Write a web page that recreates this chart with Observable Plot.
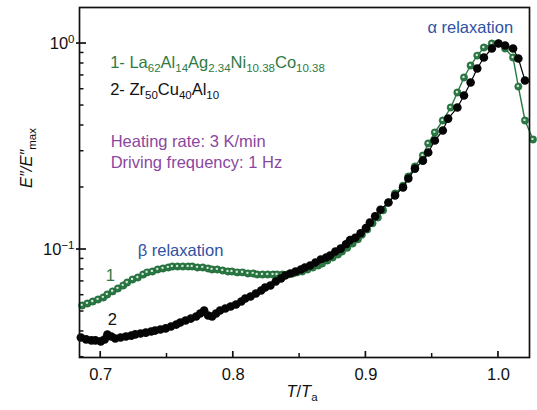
<!DOCTYPE html>
<html><head><meta charset="utf-8">
<script src="https://cdn.jsdelivr.net/npm/d3@7"></script>
<script src="https://cdn.jsdelivr.net/npm/@observablehq/plot@0.6"></script>
<style>
html,body{margin:0;padding:0;background:#fff;}
#chart svg{font-family:"Liberation Sans",Arial,sans-serif;}
</style>
</head><body><div id="chart"></div>
<script>
// ---- Data ----
// Series 1: La62Al14Ag2.34Ni10.38Co10.38 (green)
const x1 = [0.686,0.690,0.694,0.698,0.702,0.705,0.709,0.713,0.717,0.720,0.724,0.728,0.732,0.735,0.739,0.743,0.747,0.751,0.754,0.758,0.762,0.766,0.769,0.773,0.777,0.781,0.784,0.788,0.792,0.796,0.799,0.803,0.807,0.811,0.815,0.818,0.822,0.826,0.830,0.833,0.837,0.841,0.845,0.848,0.852,0.856,0.860,0.864,0.867,0.871,0.875,0.879,0.882,0.886,0.890,0.894,0.897,0.901,0.905,0.909,0.913,0.917,0.922,0.928,0.932,0.937,0.943,0.947,0.952,0.958,0.964,0.969,0.974,0.979,0.984,0.989,0.995,1.000,1.005,1.011,1.015,1.020,1.026];
const y1 = [0.0535,0.0547,0.0559,0.0572,0.0585,0.0605,0.0626,0.0647,0.0669,0.0691,0.0715,0.0731,0.0756,0.0774,0.0782,0.0800,0.0809,0.0818,0.0827,0.0827,0.0827,0.0827,0.0827,0.0818,0.0818,0.0809,0.0800,0.0800,0.0791,0.0782,0.0782,0.0774,0.0774,0.0765,0.0765,0.0756,0.0756,0.0756,0.0756,0.0756,0.0756,0.0756,0.0765,0.0774,0.0782,0.0800,0.0818,0.0836,0.0855,0.0885,0.0915,0.0946,0.0978,0.102,0.107,0.112,0.118,0.125,0.134,0.143,0.155,0.169,0.187,0.204,0.226,0.253,0.286,0.327,0.370,0.423,0.489,0.578,0.684,0.782,0.874,0.956,1.000,1.000,0.946,0.855,0.618,0.423,0.342];
// Series 2: Zr50Cu40Al10 (black)
const x2 = [0.685,0.689,0.693,0.696,0.700,0.703,0.705,0.708,0.711,0.715,0.719,0.723,0.726,0.730,0.734,0.738,0.741,0.745,0.749,0.753,0.757,0.760,0.764,0.768,0.772,0.775,0.778,0.781,0.784,0.787,0.790,0.794,0.798,0.802,0.806,0.809,0.813,0.817,0.821,0.824,0.828,0.832,0.836,0.839,0.843,0.847,0.851,0.854,0.858,0.862,0.866,0.870,0.873,0.877,0.881,0.885,0.888,0.892,0.896,0.900,0.903,0.907,0.911,0.917,0.922,0.928,0.932,0.937,0.943,0.947,0.952,0.958,0.962,0.969,0.974,0.979,0.984,0.989,0.995,1.000,1.005,1.011,1.015,1.020];
const y2 = [0.0374,0.0366,0.0362,0.0362,0.0358,0.0366,0.0386,0.0378,0.0370,0.0374,0.0378,0.0382,0.0387,0.0391,0.0395,0.0400,0.0404,0.0409,0.0414,0.0423,0.0432,0.0442,0.0452,0.0462,0.0473,0.0489,0.0506,0.0478,0.0473,0.0489,0.0506,0.0517,0.0529,0.0541,0.0559,0.0578,0.0591,0.0611,0.0632,0.0654,0.0669,0.0699,0.0723,0.0748,0.0765,0.0782,0.0800,0.0818,0.0836,0.0865,0.0894,0.0915,0.0935,0.0978,0.101,0.106,0.111,0.114,0.120,0.127,0.135,0.145,0.156,0.169,0.183,0.200,0.221,0.247,0.270,0.296,0.338,0.378,0.432,0.489,0.559,0.647,0.756,0.855,0.946,1.000,0.978,0.946,0.846,0.661];

const xTicks = [0.7, 0.8, 0.9, 1.0];
const xMinor = [0.75, 0.85, 0.95];
const yTicks = [0.1, 1];
const yTickExp = ["\u22121", "0"];
const yMinor = [0.03,0.04,0.05,0.06,0.07,0.08,0.09,0.2,0.3,0.4,0.5,0.6,0.7,0.8,0.9];

// annotation anchors (data coordinates, left/baseline)
const notes = [
  {x: 0.9464, y: 1.131, text: "\u03b1 relaxation", color: "#2f51a3"},
  {x: 0.7279, y: 0.0935, text: "\u03b2 relaxation", color: "#2f51a3"},
  {x: 0.7038, y: 0.0707, text: "1", color: "#2e7a45"},
  {x: 0.7053, y: 0.0428, text: "2", color: "#111111"},
  {x: 0.7075, y: 0.316, text: "Heating rate: 3 K/min", color: "#8b479f"},
  {x: 0.7075, y: 0.250, text: "Driving frequency: 1 Hz", color: "#8b479f"}
];
const legend1 = [["1- La",0],["62",1],["Al",0],["14",1],["Ag",0],["2.34",1],["Ni",0],["10.38",1],["Co",0],["10.38",1]];
const legend2 = [["2- Zr",0],["50",1],["Cu",0],["40",1],["Al",0],["10",1]];
const legendPos = [{x: 0.7075, y: 0.756, color: "#2e7a45", parts: legend1}, {x: 0.7075, y: 0.559, color: "#111111", parts: legend2}];

const s1 = x1.map((x, i) => ({x, y: y1[i]}));
const s2 = x2.map((x, i) => ({x, y: y2[i]}));

const green = "#2a7843";
const W = 537, H = 410;
const ML = 79, MR = 8, MT = 7, MB = 53;
const FS = 16.5;
const TK = "#111";

const chart = Plot.plot({
  width: W, height: H,
  marginLeft: ML, marginRight: MR, marginTop: MT, marginBottom: MB,
  style: {fontFamily: '"Liberation Sans", Arial, sans-serif', color: "#111", background: "#fff"},
  x: {domain: [0.684, 1.0234]},
  y: {type: "log", domain: [0.0299, 1.496]},
  marks: [
    Plot.line(s1, {x: "x", y: "y", stroke: green, strokeWidth: 1.4}),
    Plot.dot(s1, {x: "x", y: "y", r: 3.7, fill: green, stroke: "#1d5a30", strokeWidth: 0.4}),
    Plot.dot(s1, {x: "x", y: "y", r: 1.2, fill: "#d6e6d9", dx: -0.5, dy: -0.6}),
    Plot.line(s2, {x: "x", y: "y", stroke: "#000", strokeWidth: 1.2}),
    Plot.dot(s2, {x: "x", y: "y", r: 4.3, fill: "#050505"}),
    Plot.frame({stroke: "#111", strokeWidth: 1.7}),
    Plot.axisX({ticks: xTicks, tickSize: 0, tickPadding: 11, tickFormat: d3.format(".1f"), fontSize: FS, label: null}),
    Plot.axisY({ticks: yTicks, tickSize: 0, tickPadding: 5, tickFormat: (d) => yTickExp[yTicks.indexOf(d)], fontSize: FS, label: null, className: "ylab"}),
    Plot.text(notes, {x: "x", y: "y", text: "text", fill: "color", textAnchor: "start", lineAnchor: "bottom", fontSize: FS})
  ]
});

document.getElementById("chart").appendChild(chart);
const svg = d3.select(chart);
const sx = chart.scale("x"), sy = chart.scale("y");

// inside tick marks placed through the plot's own scales
const tg = svg.append("g").attr("stroke", TK).attr("fill", "none");
const yb = H - MB, xl0 = ML;
for (const t of xTicks) tg.append("line").attr("x1", sx.apply(t)).attr("x2", sx.apply(t)).attr("y1", yb).attr("y2", yb - 6).attr("stroke-width", 1.7);
for (const t of xMinor) tg.append("line").attr("x1", sx.apply(t)).attr("x2", sx.apply(t)).attr("y1", yb).attr("y2", yb - 4).attr("stroke-width", 1.5);
for (const t of yTicks) tg.append("line").attr("y1", sy.apply(t)).attr("y2", sy.apply(t)).attr("x1", xl0 - 3).attr("x2", xl0 + 7).attr("stroke-width", 1.7);
for (const t of yMinor) tg.append("line").attr("y1", sy.apply(t)).attr("y2", sy.apply(t)).attr("x1", xl0).attr("x2", xl0 + 4.5).attr("stroke-width", 1.5);

// y tick labels as 10^n
svg.selectAll("g.ylab text").each(function() {
  const t = d3.select(this);
  const e = t.text();
  t.text("10");
  t.append("tspan").attr("dy", "-0.5em").attr("font-size", "11.5px").text(e);
});

// legend with subscripts
for (const L of legendPos) {
  const txt = svg.append("text")
    .attr("x", sx.apply(L.x)).attr("y", sy.apply(L.y))
    .attr("text-anchor", "start")
    .attr("fill", L.color).attr("font-size", FS);
  let shifted = false;
  for (const [s, sub] of L.parts) {
    const ts = txt.append("tspan").text(s);
    if (sub && !shifted) { ts.attr("dy", 4).attr("font-size", 11.5); shifted = true; }
    else if (sub) { ts.attr("font-size", 11.5); }
    else if (shifted) { ts.attr("dy", -4); shifted = false; }
  }
}

// axis titles
const cx = (ML + (W - MR)) / 2;
const xl = svg.append("text").attr("x", cx - 2).attr("y", 397).attr("text-anchor", "middle")
  .attr("font-size", FS).attr("fill", "#111");
xl.append("tspan").attr("font-style", "italic").text("T");
xl.append("tspan").text("/");
xl.append("tspan").attr("font-style", "italic").text("T");
xl.append("tspan").attr("dy", 4).attr("font-size", 11.5).text("a");

const yl = svg.append("text").attr("transform", "translate(32,158) rotate(-90)").attr("text-anchor", "middle")
  .attr("font-size", FS).attr("fill", "#111");
yl.append("tspan").attr("font-style", "italic").text("E\u2033/E\u2033");
yl.append("tspan").attr("dy", 4).attr("font-size", 11.5).text("max");
</script>
</body></html>
